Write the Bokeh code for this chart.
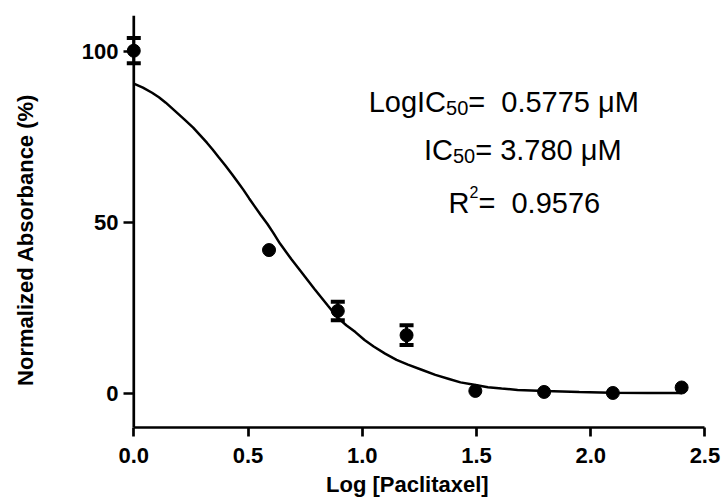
from bokeh.plotting import figure
from bokeh.models import Range1d, FixedTicker, Whisker, TeeHead, ColumnDataSource, Label, Span
from bokeh.embed import file_html
from bokeh.resources import INLINE

# ---- data ----
log_conc = [0.0, 0.592, 0.893, 1.194, 1.495, 1.796, 2.097, 2.398]
absorbance = [100.2, 41.9, 24.1, 17.0, 0.7, 0.4, 0.1, 1.7]
abs_err = [3.7, 0.0, 2.7, 2.9, 0.0, 0.0, 0.0, 0.0]

fit_x = [0.00, 0.04, 0.08, 0.11, 0.14, 0.18, 0.22, 0.26, 0.29, 0.32, 0.345, 0.37,
         0.40, 0.43, 0.455, 0.48, 0.505, 0.53, 0.555, 0.585, 0.61, 0.64, 0.69,
         0.73, 0.79, 0.85, 0.89, 0.93, 0.97, 1.01, 1.05, 1.10, 1.15, 1.20, 1.26,
         1.32, 1.38, 1.43, 1.49, 1.55, 1.61, 1.68, 1.80, 1.95, 2.09, 2.25, 2.40]
fit_y = [90.6, 89.4, 87.9, 86.6, 85.0, 82.6, 80.2, 77.7, 75.5, 73.3, 71.3, 69.2,
         66.7, 64.1, 61.8, 59.5, 57.0, 54.6, 52.2, 49.5, 47.0, 43.8, 39.2,
         35.8, 30.6, 25.6, 22.3, 19.9, 17.9, 15.6, 13.7, 11.6, 9.8, 8.4, 6.9,
         5.4, 4.2, 3.2, 2.5, 1.8, 1.4, 1.0, 0.7, 0.4, 0.2, 0.1, 0.1]

x_ticks = [0.0, 0.5, 1.0, 1.5, 2.0, 2.5]
x_tick_labels = ["0.0", "0.5", "1.0", "1.5", "2.0", "2.5"]
y_ticks = [0, 50, 100]
y_tick_labels = ["0", "50", "100"]
x_title = "Log [Paclitaxel]"
y_title = "Normalized Absorbance (%)"

FONT = "Liberation Sans"
NB = "\u00a0"

p = figure(width=723, height=500,
           x_range=Range1d(-0.045, 2.52), y_range=Range1d(-10, 110.5),
           output_backend="svg", toolbar_location=None,
           min_border_left=123, min_border_right=14,
           min_border_top=15, min_border_bottom=73)
p.outline_line_color = None
p.xgrid.visible = False
p.ygrid.visible = False

for ax in (p.xaxis[0], p.yaxis[0]):
    ax.axis_line_width = 2.7
    ax.axis_line_color = "black"
    ax.major_tick_line_width = 2.7
    ax.major_tick_line_color = "black"
    ax.minor_tick_line_color = None
    ax.major_label_text_font = FONT
    ax.major_label_text_font_style = "bold"
    ax.major_label_text_font_size = "22px"
    ax.major_label_text_color = "black"
    ax.axis_label_text_font = FONT
    ax.axis_label_text_font_style = "bold"
    ax.axis_label_text_font_size = "22px"
    ax.axis_label_text_color = "black"

p.xaxis.ticker = FixedTicker(ticks=x_ticks)
p.xaxis.major_label_overrides = {t: l for t, l in zip(x_ticks, x_tick_labels)}
p.xaxis.bounds = (0, 2.5)
p.xaxis.major_tick_in = 0
p.xaxis.major_tick_out = 9
# trailing no-break spaces nudge the centred title slightly off-centre, as in the original
p.xaxis.axis_label = x_title + NB * 3
p.xaxis.major_label_standoff = 11
p.xaxis.axis_label_standoff = 6

# y axis: labels at frame edge, ticks reaching in to the axis line at x = 0
p.yaxis.ticker = FixedTicker(ticks=y_ticks)
p.yaxis.major_label_overrides = {t: l for t, l in zip(y_ticks, y_tick_labels)}
p.yaxis.axis_line_color = None
p.yaxis.major_tick_in = 10
p.yaxis.major_tick_out = 0
p.yaxis.axis_label = y_title + NB * 6
p.yaxis.major_label_standoff = 5
p.yaxis.axis_label_standoff = 41
p.add_layout(Span(location=0, dimension="height", line_color="black", line_width=2.7))

# fitted curve
p.line(fit_x, fit_y, line_color="black", line_width=2.5)

# error bars (only where visible)
eb = [(x, m - e, m + e) for x, m, e in zip(log_conc, absorbance, abs_err) if e > 0]
err_src = ColumnDataSource(dict(x=[a[0] for a in eb], lo=[a[1] for a in eb], hi=[a[2] for a in eb]))
p.add_layout(Whisker(base="x", lower="lo", upper="hi", source=err_src,
                     line_color="black", line_width=3,
                     upper_head=TeeHead(size=14, line_width=4, line_color="black"),
                     lower_head=TeeHead(size=14, line_width=4, line_color="black")))

p.scatter(log_conc, absorbance, size=13, marker="circle", fill_color="black", line_color="black")

# annotation text
F = 29
SUB = 20
SUP = 16

def lab(x, y, text, size, xo=0, yo=0):
    p.add_layout(Label(x=x, y=y, text=text, x_offset=xo, y_offset=yo,
                       text_font=FONT, text_font_size=f"{size}px",
                       text_color="black", text_baseline="alphabetic", text_align="left"))

# line 1
x1, y1 = 1.028, 85.1
lab(x1, y1, "LogIC", F)
lab(x1, y1, "50", SUB, xo=2.668 * F, yo=-6)
lab(x1, y1, "=" + NB + " 0.5775 μM", F, xo=2.668 * F + 1.112 * SUB)
# line 2
x2, y2 = 1.270, 71.1
lab(x2, y2, "IC", F)
lab(x2, y2, "50", SUB, xo=1.0 * F, yo=-6)
lab(x2, y2, "= 3.780 μM", F, xo=1.0 * F + 1.112 * SUB)
# line 3
x3, y3 = 1.378, 55.8
lab(x3, y3, "R", F)
lab(x3, y3, "2", SUP, xo=0.722 * F, yo=11)
lab(x3, y3, "=" + NB + " 0.9576", F, xo=0.722 * F + 0.556 * SUP)

open("out.html", "w").write(file_html(p, INLINE))
